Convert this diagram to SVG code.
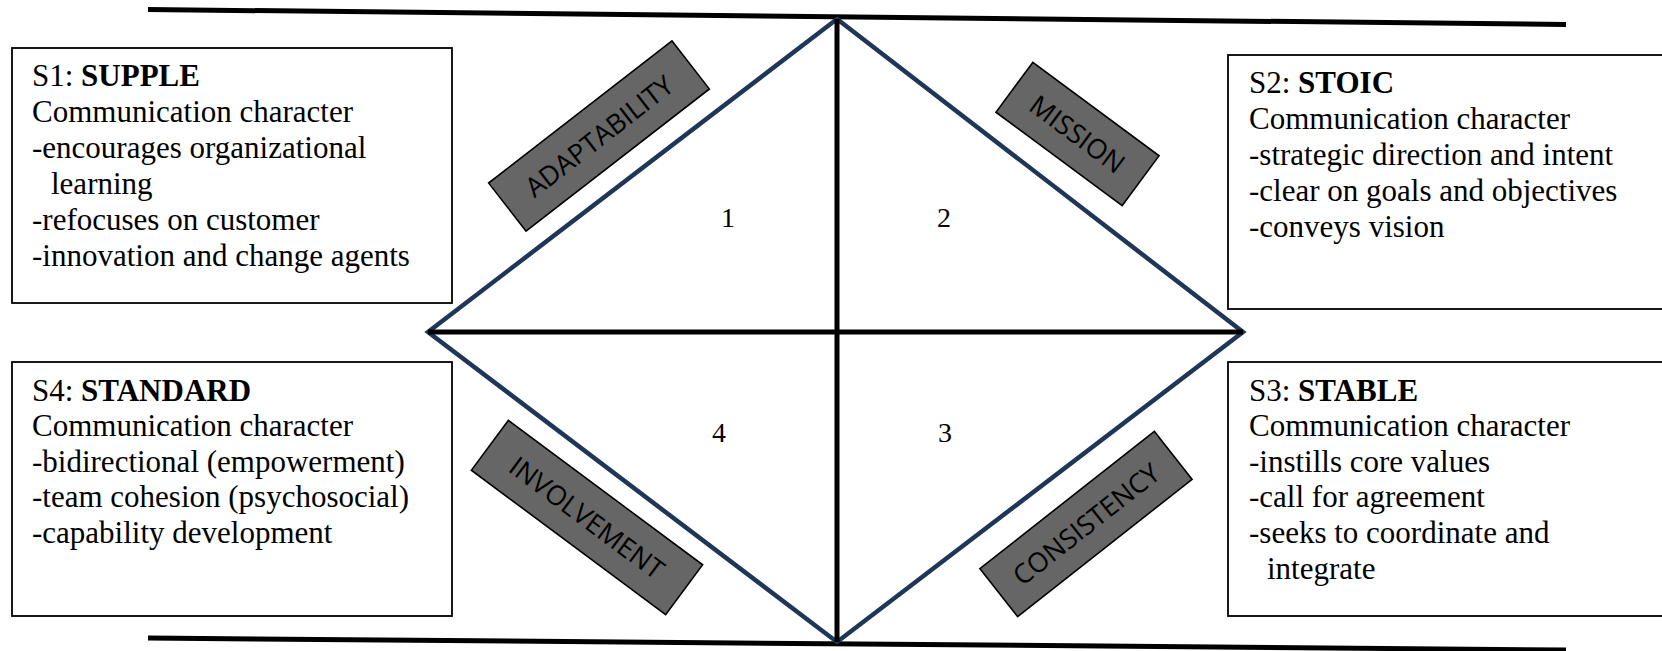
<svg xmlns="http://www.w3.org/2000/svg" width="1662" height="651" viewBox="0 0 1662 651">
  <style>
    .box { fill: #ffffff; stroke: #000000; stroke-width: 1.8; }
    .txt { font-family: "Liberation Serif", "Times New Roman", serif; font-size: 31px; fill: #000000; }
    .b { font-weight: bold; }
    .num { font-family: "Liberation Serif", "Times New Roman", serif; font-size: 28px; fill: #000000; text-anchor: middle; }
    .tag { fill: #666666; stroke: #000000; stroke-width: 1.6; }
    .tagtxt { font-family: "Open Sans", "Liberation Sans", sans-serif; font-size: 27px; fill: #000000; text-anchor: middle; }
    .rule { stroke: #000000; stroke-width: 5; fill: none; }
    .dia { stroke: #1f3659; stroke-width: 4.5; fill: none; stroke-linejoin: miter; }
    .cross { stroke: #000000; stroke-width: 5; fill: none; }
  </style>

  <g id="rules">
    <line class="rule" x1="148" y1="9.5" x2="1566" y2="24.5"/>
    <line class="rule" x1="148" y1="638" x2="1566" y2="650"/>
  </g>

  <g id="connectors">
    <polygon class="dia" points="837,19 1243,332 837,642 428,332"/>
    <line class="cross" x1="837" y1="19" x2="837" y2="642"/>
    <line class="cross" x1="428" y1="332" x2="1243" y2="332"/>
  </g>

  <g id="s1">
    <rect class="box" x="12" y="48" width="440" height="255"/>
    <text class="txt" x="32" y="86">S1: <tspan class="b">SUPPLE</tspan></text>
    <text class="txt" x="32" y="122">Communication character</text>
    <text class="txt" x="32" y="158">-encourages organizational</text>
    <text class="txt" x="51" y="194">learning</text>
    <text class="txt" x="32" y="230">-refocuses on customer</text>
    <text class="txt" x="32" y="266">-innovation and change agents</text>
  </g>

  <g id="s2">
    <rect class="box" x="1228" y="55" width="440" height="254"/>
    <text class="txt" x="1249" y="93">S2: <tspan class="b">STOIC</tspan></text>
    <text class="txt" x="1249" y="129">Communication character</text>
    <text class="txt" x="1249" y="165">-strategic direction and intent</text>
    <text class="txt" x="1249" y="201">-clear on goals and objectives</text>
    <text class="txt" x="1249" y="237">-conveys vision</text>
  </g>

  <g id="s3">
    <rect class="box" x="1228" y="362" width="440" height="254"/>
    <text class="txt" x="1249" y="401">S3: <tspan class="b">STABLE</tspan></text>
    <text class="txt" x="1249" y="436">Communication character</text>
    <text class="txt" x="1249" y="472">-instills core values</text>
    <text class="txt" x="1249" y="507">-call for agreement</text>
    <text class="txt" x="1249" y="543">-seeks to coordinate and</text>
    <text class="txt" x="1267" y="579">integrate</text>
  </g>

  <g id="s4">
    <rect class="box" x="12" y="362" width="440" height="254"/>
    <text class="txt" x="32" y="401">S4: <tspan class="b">STANDARD</tspan></text>
    <text class="txt" x="32" y="436">Communication character</text>
    <text class="txt" x="32" y="472">-bidirectional (empowerment)</text>
    <text class="txt" x="32" y="507">-team cohesion (psychosocial)</text>
    <text class="txt" x="32" y="543">-capability development</text>
  </g>

  <g id="q1"><text class="num" x="728" y="227">1</text></g>
  <g id="q2"><text class="num" x="944" y="227">2</text></g>
  <g id="q3"><text class="num" x="945" y="442">3</text></g>
  <g id="q4"><text class="num" x="719" y="442">4</text></g>

  <g id="adaptability" transform="translate(599,136) rotate(-37.8)">
    <rect class="tag" x="-116" y="-30.5" width="232" height="61"/>
    <text class="tagtxt" x="0" y="10">ADAPTABILITY</text>
  </g>

  <g id="mission" transform="translate(1077.5,134) rotate(36.5)">
    <rect class="tag" x="-78.5" y="-31" width="157" height="62"/>
    <text class="tagtxt" x="0" y="10">MISSION</text>
  </g>

  <g id="involvement" transform="translate(587,517.5) rotate(36.6)">
    <rect class="tag" x="-121" y="-31" width="242" height="62"/>
    <text class="tagtxt" x="0" y="10">INVOLVEMENT</text>
  </g>

  <g id="consistency" transform="translate(1086,524) rotate(-38.2)">
    <rect class="tag" x="-111" y="-30.5" width="222" height="61"/>
    <text class="tagtxt" x="0" y="10">CONSISTENCY</text>
  </g>
</svg>
